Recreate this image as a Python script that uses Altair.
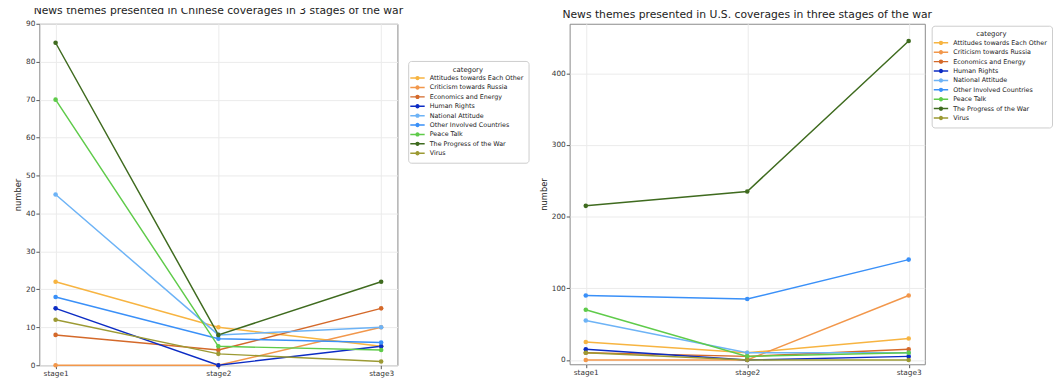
import altair as alt
import pandas as pd

stages = ["stage1", "stage2", "stage3"]
categories = [
    "Attitudes towards Each Other",
    "Criticism towards Russia",
    "Economics and Energy",
    "Human Rights",
    "National Attitude",
    "Other Involved Countries",
    "Peace Talk",
    "The Progress of the War",
    "Virus",
]
colors = ["#F7B441", "#F2974B", "#D4692A", "#0C2CC4", "#6DB3F6",
          "#3A90F8", "#5FCB4A", "#3F6B1F", "#9C9A33"]

cn_values = [[22, 10, 5], [0, 0, 10], [8, 4, 15], [15, 0, 5], [45, 8, 10],
             [18, 7, 6], [70, 5, 4], [85, 8, 22], [12, 3, 1]]
us_values = [[25, 10, 30], [0, 0, 90], [10, 5, 15], [15, 0, 5], [55, 10, 10],
             [90, 85, 140], [70, 5, 10], [215, 235, 445], [10, 0, 0]]

cn_title = "News themes presented in Chinese coverages in 3 stages of the war"
us_title = "News themes presented in U.S. coverages in three stages of the war"
cn_ticks = [0, 10, 20, 30, 40, 50, 60, 70, 80, 90]
us_ticks = [0, 100, 200, 300, 400]

FONT = "DejaVu Sans"
SYMBOL = "M-2.1,0H2.1M-0.42,0A0.42,0.42,0,1,1,0.42,0A0.42,0.42,0,1,1,-0.42,0"


def make_df(values):
    rows = []
    for cat, vals in zip(categories, values):
        for st, v in zip(stages, vals):
            rows.append({"category": cat, "stage": st, "number": v})
    return pd.DataFrame(rows)


def panel(values, title, ydomain, yticks, lx, ly, w, h):
    df = make_df(values)
    return alt.Chart(df, title=alt.Title(title, fontSize=11, font=FONT,
                                         fontWeight="normal", color="#222222",
                                         anchor="middle", offset=4)).mark_line(
        strokeWidth=1.5,
        point=alt.OverlayMarkDef(filled=True, size=22, opacity=1),
    ).encode(
        x=alt.X("stage:N", sort=stages, title=None,
                scale=alt.Scale(type="point", padding=0.1),
                axis=alt.Axis(labelAngle=0)),
        y=alt.Y("number:Q", title="number",
                scale=alt.Scale(domain=ydomain, nice=False, zero=False),
                axis=alt.Axis(values=yticks)),
        color=alt.Color("category:N",
                        scale=alt.Scale(domain=categories, range=colors),
                        legend=alt.Legend(
                            orient="none", legendX=lx, legendY=ly,
                            title="category", titleAnchor="middle",
                            titleFontSize=7, titleFontWeight="normal",
                            titleColor="#222222", titleFont=FONT,
                            labelFontSize=6.5, labelFont=FONT,
                            labelColor="#222222", labelLimit=300,
                            symbolType=SYMBOL, symbolSize=49,
                            symbolStrokeWidth=1.5, rowPadding=0.6,
                            columnPadding=0,
                            padding=5, fillColor="white",
                            strokeColor="#cccccc", cornerRadius=3,
                            titlePadding=1, labelOffset=8,
                        )),
        detail="category:N",
    ).properties(width=w, height=h)


left = panel(cn_values, cn_title, [0, 90], cn_ticks, 377, 38, 366, 349)
right = panel(us_values, us_title, [-6, 469], us_ticks, 370, 2, 363, 348)

chart = alt.hconcat(left, right, spacing=9).resolve_scale(
    color="independent", y="independent"
).configure(
    padding={"left": 5, "top": -8, "right": 0, "bottom": 0},
    font=FONT,
).configure_view(
    stroke="#888888", strokeWidth=1
).configure_axis(
    labelFont=FONT, labelFontSize=7.5, labelColor="#333333",
    titleFont=FONT, titleFontSize=8.5, titleFontWeight="normal",
    titleColor="#222222", titlePadding=3,
    gridColor="#ebebeb", gridWidth=1, grid=True,
    tickColor="#555555", tickSize=3.5, labelPadding=1,
    domain=False,
)

chart.save("out.html", embed_options={"renderer": "svg", "actions": False})
